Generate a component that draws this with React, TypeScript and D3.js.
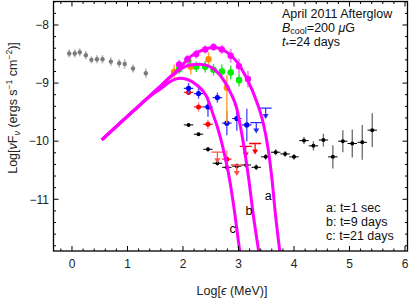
import { useEffect, useRef } from "react";
import * as d3 from "d3";

// Fermi LAT afterglow data, Log[eps], Log[nuFnu]
const grayX = [-0.05, 0.05, 0.14, 0.25, 0.35, 0.45, 0.55, 0.7, 0.85, 0.95, 1.1, 1.33];
const grayY = [-8.49, -8.49, -8.47, -8.52, -8.6, -8.59, -8.59, -8.63, -8.66, -8.67, -8.75, -8.83];
const grayErr = [0.07, 0.07, 0.07, 0.07, 0.06, 0.07, 0.07, 0.07, 0.07, 0.08, 0.07, 0.08];

const magX = [1.93, 2.08, 2.24, 2.4, 2.55, 2.7, 2.86, 3.01, 3.17];
const magY = [-8.68, -8.59, -8.5, -8.42, -8.38, -8.42, -8.53, -8.71, -8.93];
const magErr = [0.08, 0.08, 0.08, 0.07, 0.07, 0.08, 0.12, 0.13, 0.14];

const greenX = [1.93, 2.09, 2.24, 2.4, 2.55, 2.7, 2.86, 3.01];
const greenY = [-8.76, -8.61, -8.72, -8.72, -8.77, -8.8, -8.82, -8.95];
const greenErr = [0.08, 0.08, 0.09, 0.1, 0.1, 0.12, 0.12, 0.11];

const orangeX = [1.84, 2.14, 2.46, 2.79];
const orangeY = [-8.81, -8.72, -8.59, -9.08];
const orangeErrHi = [0.13, 0.13, 0.12, 0.22];
const orangeErrLo = [0.13, 0.13, 0.12, 0.61];

const blueX = [2.1, 2.28, 2.45, 2.62, 2.79, 2.97, 3.15];
const blueY = [-9.09, -9.18, -9.41, -9.25, -9.69, -9.61, -9.72];
const blueErr = [0.09, 0.09, 0.17, 0.09, 0.21, 0.21, 0.28];
const blueUlX = [3.32, 3.49];
const blueUlY = [-9.68, -9.43];

const redX = [2.1, 2.28, 2.45, 2.79];
const redY = [-9.16, -9.41, -9.71, -10.31];
const redErr = [0.05, 0.08, 0.08, 0.15];
const redUlX = [2.62, 2.97, 3.13, 3.3];
const redUlY = [-10.19, -10.41, -10.09, -10.04];

const blackX = [2.1, 2.28, 2.45, 2.62, 2.79, 2.97, 3.14, 3.32, 3.49, 3.67, 3.84, 4.0, 4.18, 4.35, 4.53, 4.7, 4.88, 5.05, 5.23, 5.41];
const blackY = [-9.72, -9.88, -10.14, -10.38, -10.45, -10.43, -10.41, -10.45, -10.27, -10.19, -10.22, -10.27, -9.99, -10.08, -9.98, -10.27, -10.0, -10.04, -10.02, -9.81];
const blackErr = [0.03, 0.03, 0.04, 0.04, 0.05, 0.05, 0.05, 0.05, 0.05, 0.05, 0.05, 0.05, 0.06, 0.08, 0.11, 0.2, 0.19, 0.24, 0.3, 0.29];

// model curves
const curveAX = [0.535, 1.076, 1.423, 1.616, 1.775, 1.946, 2.067, 2.216, 2.366, 2.546, 2.726, 2.968, 3.148, 3.328, 3.447, 3.537, 3.595, 3.667, 3.748];
const curveAY = [-9.979, -9.506, -9.201, -9.033, -8.886, -8.745, -8.602, -8.491, -8.43, -8.384, -8.43, -8.632, -8.917, -9.32, -9.692, -10.151, -10.582, -11.27, -11.924];
const curveBX = [0.535, 1.076, 1.423, 1.616, 1.775, 1.946, 2.126, 2.306, 2.486, 2.667, 2.847, 2.968, 3.036, 3.117, 3.18, 3.267, 3.369];
const curveBY = [-9.979, -9.506, -9.201, -9.033, -8.895, -8.766, -8.688, -8.676, -8.718, -8.861, -9.148, -9.434, -9.75, -10.208, -10.616, -11.27, -11.924];
const curveCX = [0.535, 1.076, 1.423, 1.616, 1.766, 1.946, 2.067, 2.247, 2.427, 2.546, 2.636, 2.757, 2.825, 2.937, 3.027];
const curveCY = [-9.979, -9.506, -9.213, -9.084, -8.976, -8.917, -8.935, -9.033, -9.234, -9.549, -9.807, -10.267, -10.582, -11.27, -11.929];

const curveNames = ["a", "b", "c"];
const curveLabelX = [3.535, 3.19, 2.895];
const curveLabelY = [-10.93, -11.2, -11.5];
const legendLines = ["a: t=1 sec", "b: t=9 days", "c: t=21 days"];

const xTicks = [0, 1, 2, 3, 4, 5, 6];
const yTicks = [-8, -9, -10, -11];

const W = 415;
const H = 300;
const font = "'Liberation Sans', Arial, Helvetica, sans-serif";

const App = () => {
  const ref = useRef(null);

  useEffect(() => {
    const svg = d3.select(ref.current);
    svg.selectAll("*").remove();

    const left = 53.5, right = 407.5, top = 1.5, bottom = 251;
    const x = d3.scaleLinear().domain([-0.333, 6.045]).range([left, right]);
    const y = d3.scaleLinear().domain([-7.596, -11.89]).range([top, bottom]);

    svg
      .append("defs")
      .append("clipPath")
      .attr("id", "plotclip")
      .append("rect")
      .attr("x", left)
      .attr("y", top)
      .attr("width", right - left)
      .attr("height", bottom - top);

    const plot = svg.append("g").attr("clip-path", "url(#plotclip)");

    const seg = (g, x1, y1, x2, y2, color, w = 1) =>
      g.append("line").attr("x1", x1).attr("y1", y1).attr("x2", x2).attr("y2", y2)
        .attr("stroke", color).attr("stroke-width", w);

    // gray
    grayX.forEach((d, i) => {
      seg(plot, x(d), y(grayY[i] + grayErr[i]), x(d), y(grayY[i] - grayErr[i]), "#b4b4b4", 1.6);
    });
    grayX.forEach((d, i) => {
      plot.append("circle").attr("cx", x(d)).attr("cy", y(grayY[i])).attr("r", 2.2).attr("fill", "#7a7a7a");
    });

    // black
    blackX.forEach((d, i) => {
      seg(plot, x(d), y(blackY[i] + blackErr[i]), x(d), y(blackY[i] - blackErr[i]), "#6a6a6a", 1.3);
      seg(plot, x(d - 0.085), y(blackY[i]), x(d + 0.085), y(blackY[i]), "#000", 1);
    });
    blackX.forEach((d, i) => {
      plot.append("circle").attr("cx", x(d)).attr("cy", y(blackY[i])).attr("r", 2).attr("fill", "#000");
    });

    // red
    redX.forEach((d, i) => {
      seg(plot, x(d), y(redY[i] + redErr[i]), x(d), y(redY[i] - redErr[i]), "#ff8080", 1.4);
      seg(plot, x(d - 0.085), y(redY[i]), x(d + 0.085), y(redY[i]), "#ff2020", 1.2);
      plot.append("circle").attr("cx", x(d)).attr("cy", y(redY[i])).attr("r", 2.5).attr("fill", "#ff0000");
    });
    const arrow = (g, cx, cy, color) => {
      seg(g, cx - 6, cy, cx + 6, cy, color, 1.3);
      seg(g, cx, cy, cx, cy + 7, color, 1.2);
      g.append("path")
        .attr("d", `M${cx - 3},${cy + 6} L${cx + 3},${cy + 6} L${cx},${cy + 11} Z`)
        .attr("fill", color);
    };
    redUlX.forEach((d, i) => arrow(plot, x(d), y(redUlY[i]), i < 2 ? "#ff5050" : "#ff0000"));

    // blue
    blueX.forEach((d, i) => {
      seg(plot, x(d), y(blueY[i] + blueErr[i]), x(d), y(blueY[i] - blueErr[i]), "#5050ff", 1.4);
      seg(plot, x(d - 0.085), y(blueY[i]), x(d + 0.085), y(blueY[i]), "#2020ff", 1.2);
      plot.append("circle").attr("cx", x(d)).attr("cy", y(blueY[i])).attr("r", 2.6).attr("fill", "#0000ff");
    });
    blueUlX.forEach((d, i) => arrow(plot, x(d), y(blueUlY[i]), "#2a2aff"));

    // orange
    orangeX.forEach((d, i) => {
      seg(plot, x(d), y(orangeY[i] + orangeErrHi[i]), x(d), y(orangeY[i] - orangeErrLo[i]), "#ffa030", 1.4);
    });
    orangeX.forEach((d, i) => {
      plot.append("circle").attr("cx", x(d)).attr("cy", y(orangeY[i])).attr("r", 3.2).attr("fill", "#ff8a00");
    });

    // green
    greenX.forEach((d, i) => {
      seg(plot, x(d), y(greenY[i] + greenErr[i]), x(d), y(greenY[i] - greenErr[i]), "#30e030", 1.4);
    });
    greenX.forEach((d, i) => {
      plot.append("circle").attr("cx", x(d)).attr("cy", y(greenY[i])).attr("r", 3.3).attr("fill", "#00ee00");
    });

    // magenta data
    magX.forEach((d, i) => {
      seg(plot, x(d), y(magY[i] + magErr[i]), x(d), y(magY[i] - magErr[i]), "#f090f0", 2);
    });
    magX.forEach((d, i) => {
      plot.append("circle").attr("cx", x(d)).attr("cy", y(magY[i])).attr("r", 3.2).attr("fill", "#ff00ff");
    });

    // model curves
    const line = d3
      .line()
      .x((d) => x(d[0]))
      .y((d) => y(d[1]))
      .curve(d3.curveMonotoneX);
    const curves = [
      d3.zip(curveAX, curveAY),
      d3.zip(curveBX, curveBY),
      d3.zip(curveCX, curveCY),
    ];
    plot
      .append("g")
      .selectAll("path")
      .data(curves)
      .join("path")
      .attr("d", line)
      .attr("fill", "none")
      .attr("stroke", "#ff00ff")
      .attr("stroke-width", 3);

    // curve letters
    svg
      .append("g")
      .selectAll("text")
      .data(curveNames)
      .join("text")
      .attr("x", (d, i) => x(curveLabelX[i]))
      .attr("y", (d, i) => y(curveLabelY[i]) + 4.5)
      .attr("text-anchor", "middle")
      .attr("font-family", font)
      .attr("font-size", 12.5)
      .text((d) => d);

    // frame
    svg
      .append("rect")
      .attr("x", left)
      .attr("y", top)
      .attr("width", right - left)
      .attr("height", bottom - top)
      .attr("fill", "none")
      .attr("stroke", "#000")
      .attr("stroke-width", 1.3);

    const ticks = svg.append("g").attr("stroke", "#000").attr("stroke-width", 1);
    const xMinor = d3.range(-0.2, 6.05, 0.2).filter((v) => Math.abs(v - Math.round(v)) > 0.01);
    const yMinor = d3.range(-7.6, -11.85, -0.2).filter((v) => Math.abs(v - Math.round(v)) > 0.01);
    const majL = 5, minL = 2.5;
    xTicks.forEach((v) => {
      seg(ticks, x(v), bottom, x(v), bottom - majL, "#000");
      seg(ticks, x(v), top, x(v), top + majL, "#000");
    });
    xMinor.forEach((v) => {
      seg(ticks, x(v), bottom, x(v), bottom - minL, "#000");
      seg(ticks, x(v), top, x(v), top + minL, "#000");
    });
    yTicks.forEach((v) => {
      seg(ticks, left, y(v), left + majL, y(v), "#000");
      seg(ticks, right, y(v), right - majL, y(v), "#000");
    });
    yMinor.forEach((v) => {
      seg(ticks, left, y(v), left + minL, y(v), "#000");
      seg(ticks, right, y(v), right - minL, y(v), "#000");
    });

    // tick labels
    svg
      .append("g")
      .selectAll("text")
      .data(xTicks)
      .join("text")
      .attr("x", (d) => x(d))
      .attr("y", 268)
      .attr("text-anchor", "middle")
      .attr("font-family", font)
      .attr("font-size", 12)
      .attr("fill", "#222")
      .text((d) => d);
    svg
      .append("g")
      .selectAll("text")
      .data(yTicks)
      .join("text")
      .attr("x", 49)
      .attr("y", (d) => y(d) + 4.3)
      .attr("text-anchor", "end")
      .attr("font-family", font)
      .attr("font-size", 12)
      .attr("fill", "#222")
      .text((d) => "\u2212" + Math.abs(d));

    // axis titles
    const xt = svg
      .append("text")
      .attr("x", 232)
      .attr("y", 295)
      .attr("text-anchor", "middle")
      .attr("font-family", font)
      .attr("font-size", 12.5)
      .attr("fill", "#222");
    xt.append("tspan").text("Log[");
    xt.append("tspan").attr("font-style", "italic").text("\u03f5");
    xt.append("tspan").text(" (MeV)]");

    const yt = svg
      .append("text")
      .attr("transform", "translate(17,108) rotate(-90)")
      .attr("text-anchor", "middle")
      .attr("font-family", font)
      .attr("font-size", 12.5)
      .attr("fill", "#222");
    yt.append("tspan").text("Log[");
    yt.append("tspan").attr("font-style", "italic").text("\u03bd");
    yt.append("tspan").text("F");
    yt.append("tspan").attr("font-style", "italic").attr("font-size", 9).attr("dy", 3).text("\u03bd");
    yt.append("tspan").attr("dy", -3).text(" (ergs s");
    yt.append("tspan").attr("font-size", 8.5).attr("dy", -5).text("\u22121");
    yt.append("tspan").attr("dy", 5).text(" cm");
    yt.append("tspan").attr("font-size", 8.5).attr("dy", -5).text("\u22122");
    yt.append("tspan").attr("dy", 5).text(")]");

    // info text
    const info = svg.append("g").attr("font-family", font).attr("font-size", 12.5).attr("fill", "#111");
    info.append("text").attr("x", 282).attr("y", 17.5).text("April 2011 Afterglow");
    const b = info.append("text").attr("x", 282).attr("y", 31.5);
    b.append("tspan").attr("font-style", "italic").text("B");
    b.append("tspan").attr("font-size", 9).attr("dy", 2.5).text("cool");
    b.append("tspan").attr("dy", -2.5).text("=200 ");
    b.append("tspan").attr("font-style", "italic").text("\u03bc");
    b.append("tspan").text("G");
    const t = info.append("text").attr("x", 282).attr("y", 45.5);
    t.append("tspan").attr("font-style", "italic").text("t");
    t.append("tspan").attr("font-size", 9).attr("dy", 2.5).text("*");
    t.append("tspan").attr("dy", -2.5).text("=24 days");

    info
      .selectAll("text.leg")
      .data(legendLines)
      .join("text")
      .attr("class", "leg")
      .attr("x", 326)
      .attr("y", (d, i) => 211.5 + i * 14)
      .text((d) => d);
  }, []);

  return (
    <div style={{ position: "absolute", left: 0, top: 0 }}>
      <svg ref={ref} width={W} height={H} style={{ display: "block", background: "#fff" }} />
    </div>
  );
};

export default App;
